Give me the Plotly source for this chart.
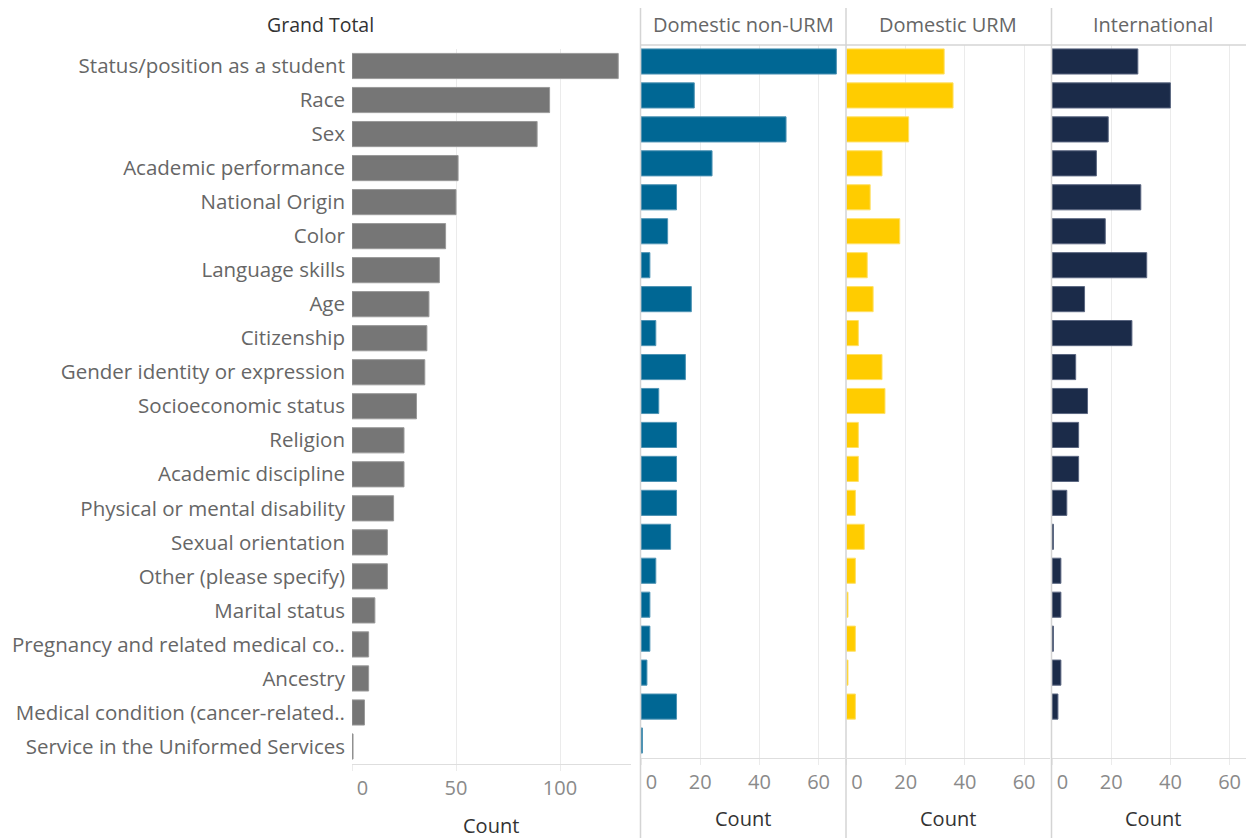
import plotly.graph_objects as go

W, H = 1254, 838
PAGE_PAD = 8  # the page body margin puts the figure at (8, 8)

categories = [
    'Status/position as a student', 'Race', 'Sex', 'Academic performance',
    'National Origin', 'Color', 'Language skills', 'Age', 'Citizenship',
    'Gender identity or expression', 'Socioeconomic status', 'Religion',
    'Academic discipline', 'Physical or mental disability', 'Sexual orientation',
    'Other (please specify)', 'Marital status', 'Pregnancy and related medical co..',
    'Ancestry', 'Medical condition (cancer-related..', 'Service in the Uniformed Services',
]
grand_total = [128, 95, 89, 51, 50, 45, 42, 37, 36, 35, 31, 25, 25, 20, 17, 17, 11, 8, 8, 6, 0.5]
domestic_non_urm = [66, 18, 49, 24, 12, 9, 3, 17, 5, 15, 6, 12, 12, 12, 10, 5, 3, 3, 2, 12, 0.5]
domestic_urm = [33, 36, 21, 12, 8, 18, 7, 9, 4, 12, 13, 4, 4, 3, 6, 3, 0.5, 3, 0.5, 3, None]
international = [29, 40, 19, 15, 30, 18, 32, 11, 27, 8, 12, 9, 9, 5, 0.5, 3, 3, 0.5, 3, 2, None]

panels = ['Domestic non-URM', 'Domestic URM', 'International']
total_ticks = [0, 50, 100]
panel_ticks = [0, 20, 40, 60]

FONT = 'Open Sans'
GRID = '#ebebeb'
SEP = '#d4d4d4'

FW, FH = W - PAGE_PAD, H - PAGE_PAD


def px_x(p):
    return (p - PAGE_PAD) / FW


def px_y(p):
    return 1 - (p - PAGE_PAD) / FH


fig = go.Figure()

series = [
    ('', grand_total, '#767676', '#9a9a9a'),
    ('2', domestic_non_urm, '#006794', '#4d93b4'),
    ('3', domestic_urm, '#ffcc00', '#ffe066'),
    ('4', international, '#1b2b49', '#5a6680'),
]
for ax, vals, col, edge in series:
    fig.add_trace(go.Bar(
        x=vals, y=categories, orientation='h',
        xaxis='x' + ax, yaxis='y' + ax,
        marker=dict(color=col, line=dict(color=edge, width=1)),
        width=0.74, showlegend=False, hoverinfo='x+y',
    ))

n = len(categories)


def xaxis_cfg(domain, rng, ticks):
    return dict(
        domain=domain, range=rng, tickvals=ticks,
        ticktext=['\u00a0\u00a0\u00a0\u00a00' if t == 0 else str(t) for t in ticks],
        showgrid=True, gridcolor=GRID, gridwidth=1, zeroline=False,
        showline=True, linecolor='#dedede', linewidth=1,
        ticks='outside', ticklen=6, tickcolor=GRID,
        tickfont=dict(family=FONT, size=20, color='#8a8a8a'),
        automargin=False, fixedrange=True,
    )


def yaxis_cfg(domain, anchor, labels):
    return dict(
        domain=domain, anchor=anchor, type='category',
        categoryorder='array', categoryarray=categories,
        range=[n - 0.5, -0.5], showgrid=False, zeroline=False, showline=False,
        ticks='', showticklabels=labels, ticklabelstandoff=6,
        tickfont=dict(family=FONT, size=20.5, color='#666666'),
        automargin=False, fixedrange=True,
    )


# grand total panel: 0 at x=352, 50 units = 104 px
fig.update_layout(
    xaxis=xaxis_cfg([px_x(352), px_x(631)], [0, 279 / 2.08], total_ticks),
    yaxis=yaxis_cfg([px_y(763.5), px_y(49)], 'x', True),
)

# the three group panels: 2.96 px per unit
panel_left = [641, 846.5, 1052]
panel_right = [845, 1050, 1254]
for i, (l, r) in enumerate(zip(panel_left, panel_right), start=2):
    fig.update_layout(**{
        'xaxis%d' % i: dict(xaxis_cfg([px_x(l), px_x(r)], [0, (r - l) / 2.96], panel_ticks), anchor='y%d' % i),
        'yaxis%d' % i: yaxis_cfg([px_y(757.5), px_y(44.5)], 'x%d' % i, False),
    })

annotations = [
    dict(x=px_x(320), y=px_y(25), text='Grand Total', font=dict(family=FONT, size=19.5, color='#333333')),
    dict(x=px_x(491), y=px_y(825), text='Count', font=dict(family=FONT, size=20, color='#333333')),
]
for name, l, r in zip(panels, panel_left, panel_right):
    c = (l + r) / 2
    annotations.append(dict(x=px_x(c), y=px_y(25), text=name,
                            font=dict(family=FONT, size=20, color='#666666')))
    annotations.append(dict(x=px_x(c), y=px_y(818), text='Count',
                            font=dict(family=FONT, size=20, color='#333333')))
for a in annotations:
    a.update(xref='paper', yref='paper', showarrow=False, xanchor='center', yanchor='middle')

shapes = []
for xs in [640.5, 846, 1051.5]:
    shapes.append(dict(type='line', xref='paper', yref='paper', x0=px_x(xs), x1=px_x(xs),
                       y0=0, y1=1, line=dict(color=SEP, width=1.5)))
shapes.append(dict(type='line', xref='paper', yref='paper', x0=px_x(640), x1=1,
                   y0=px_y(45), y1=px_y(45), line=dict(color=SEP, width=1.5)))

fig.update_layout(
    width=FW, height=FH,
    margin=dict(l=0, r=0, t=0, b=0),
    paper_bgcolor='white', plot_bgcolor='white',
    annotations=annotations,
    shapes=shapes,
    font=dict(family=FONT),
)

fig.write_html('out.html')
